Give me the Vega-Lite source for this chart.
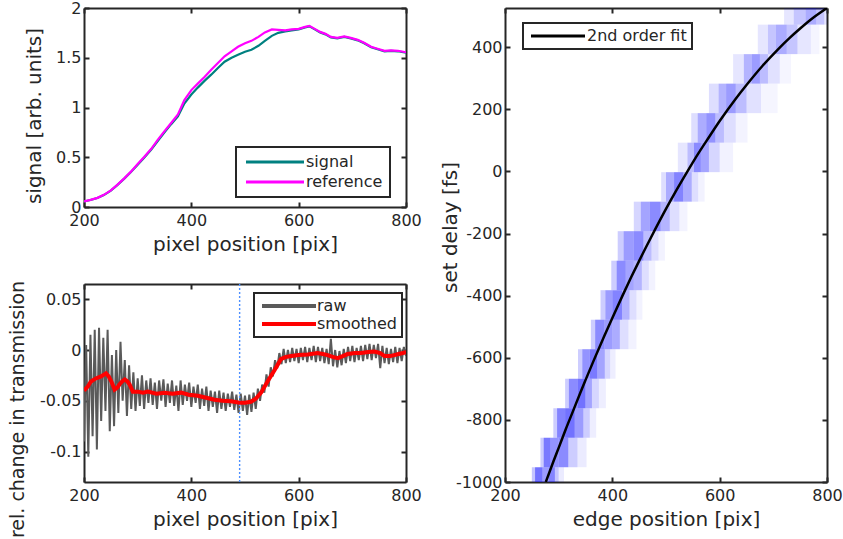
{
"$schema": "https://vega.github.io/schema/vega-lite/v6.json",
"autosize": {"type": "pad"},
"padding": {"left": 7, "top": 0, "right": 5, "bottom": 5},
"background": "white",
"config": {
  "font": "DejaVu Sans",
  "view": {"stroke": null},
  "axis": {"domainColor": "#262626", "domainWidth": 2, "tickColor": "#262626", "tickWidth": 2, "tickSize": -5,
           "labelColor": "#262626", "labelFontSize": 16, "labelFont": "DejaVu Sans", "titleColor": "#262626", "titleFontSize": 20, "titleFont": "DejaVu Sans",
           "titleFontWeight": "normal", "grid": false, "labelFlush": false, "labelOverlap": false},
  "legend": {"labelFontSize": 16, "labelColor": "#262626", "labelFont": "DejaVu Sans", "strokeColor": "#262626", "fillColor": "#ffffff", "symbolStrokeWidth": 3, "symbolSize": 100}
},
"datasets": {
  "signal": [
    {"x":200,"v":0.055},{"x":212,"v":0.07},{"x":225,"v":0.09},{"x":237,"v":0.12},{"x":250,"v":0.165},{"x":262,"v":0.22},{"x":275,"v":0.285},{"x":287,"v":0.35},{"x":300,"v":0.425},{"x":312,"v":0.495},{"x":325,"v":0.575},{"x":337,"v":0.66},{"x":350,"v":0.75},{"x":362,"v":0.83},{"x":375,"v":0.91},{"x":387,"v":1.04},{"x":400,"v":1.13},{"x":412,"v":1.2},{"x":425,"v":1.27},{"x":437,"v":1.33},{"x":450,"v":1.4},{"x":462,"v":1.46},{"x":475,"v":1.5},{"x":487,"v":1.53},{"x":500,"v":1.56},{"x":512,"v":1.58},{"x":525,"v":1.62},{"x":537,"v":1.67},{"x":550,"v":1.72},{"x":562,"v":1.75},{"x":575,"v":1.765},{"x":587,"v":1.775},{"x":600,"v":1.785},{"x":612,"v":1.805},{"x":620,"v":1.815},{"x":630,"v":1.785},{"x":640,"v":1.755},{"x":650,"v":1.735},{"x":660,"v":1.705},{"x":672,"v":1.695},{"x":685,"v":1.71},{"x":697,"v":1.695},{"x":710,"v":1.675},{"x":722,"v":1.645},{"x":735,"v":1.605},{"x":747,"v":1.585},{"x":760,"v":1.565},{"x":772,"v":1.57},{"x":785,"v":1.565},{"x":795,"v":1.555},{"x":800,"v":1.55}
  ],
  "reference": [
    {"x":200,"v":0.057},{"x":212,"v":0.072},{"x":225,"v":0.092},{"x":237,"v":0.122},{"x":250,"v":0.167},{"x":262,"v":0.222},{"x":275,"v":0.288},{"x":287,"v":0.353},{"x":300,"v":0.432},{"x":312,"v":0.502},{"x":325,"v":0.582},{"x":337,"v":0.672},{"x":350,"v":0.762},{"x":362,"v":0.842},{"x":375,"v":0.93},{"x":387,"v":1.075},{"x":400,"v":1.175},{"x":412,"v":1.24},{"x":425,"v":1.31},{"x":437,"v":1.38},{"x":450,"v":1.45},{"x":462,"v":1.515},{"x":475,"v":1.565},{"x":487,"v":1.61},{"x":500,"v":1.645},{"x":512,"v":1.67},{"x":525,"v":1.71},{"x":537,"v":1.755},{"x":550,"v":1.785},{"x":562,"v":1.78},{"x":575,"v":1.775},{"x":587,"v":1.785},{"x":600,"v":1.79},{"x":612,"v":1.81},{"x":620,"v":1.82},{"x":630,"v":1.79},{"x":640,"v":1.76},{"x":650,"v":1.74},{"x":660,"v":1.71},{"x":672,"v":1.7},{"x":685,"v":1.715},{"x":697,"v":1.7},{"x":710,"v":1.68},{"x":722,"v":1.65},{"x":735,"v":1.61},{"x":747,"v":1.59},{"x":760,"v":1.57},{"x":772,"v":1.575},{"x":785,"v":1.57},{"x":795,"v":1.56},{"x":800,"v":1.555}
  ],
  "raw": [
    {"x":200,"v":-0.09},{"x":204,"v":0.005},{"x":208,"v":-0.105},{"x":212,"v":0.015},{"x":216,"v":-0.085},{"x":220,"v":0.02},{"x":224,"v":-0.098},{"x":228,"v":0.022},{"x":232,"v":-0.07},{"x":236,"v":0.012},{"x":240,"v":-0.06},{"x":244,"v":0.02},{"x":248,"v":-0.08},{"x":252,"v":-0.005},{"x":256,"v":-0.075},{"x":260,"v":0.0},{"x":264,"v":-0.062},{"x":268,"v":0.008},{"x":272,"v":-0.05},{"x":276,"v":-0.01},{"x":280,"v":-0.065},{"x":284,"v":-0.015},{"x":288,"v":-0.058},{"x":292,"v":-0.022},{"x":296,"v":-0.06},{"x":300,"v":-0.028},{"x":304,"v":-0.055},{"x":308,"v":-0.025},{"x":312,"v":-0.058},{"x":316,"v":-0.03},{"x":320,"v":-0.052},{"x":324,"v":-0.028},{"x":328,"v":-0.054},{"x":332,"v":-0.032},{"x":336,"v":-0.058},{"x":340,"v":-0.03},{"x":344,"v":-0.05},{"x":348,"v":-0.029},{"x":352,"v":-0.056},{"x":356,"v":-0.033},{"x":360,"v":-0.052},{"x":364,"v":-0.03},{"x":368,"v":-0.055},{"x":372,"v":-0.035},{"x":376,"v":-0.06},{"x":380,"v":-0.03},{"x":384,"v":-0.054},{"x":388,"v":-0.034},{"x":392,"v":-0.05},{"x":396,"v":-0.032},{"x":400,"v":-0.056},{"x":404,"v":-0.036},{"x":408,"v":-0.052},{"x":412,"v":-0.034},{"x":416,"v":-0.058},{"x":420,"v":-0.038},{"x":424,"v":-0.055},{"x":428,"v":-0.036},{"x":432,"v":-0.06},{"x":436,"v":-0.04},{"x":440,"v":-0.056},{"x":444,"v":-0.041},{"x":448,"v":-0.062},{"x":452,"v":-0.04},{"x":456,"v":-0.058},{"x":460,"v":-0.042},{"x":464,"v":-0.06},{"x":468,"v":-0.043},{"x":472,"v":-0.056},{"x":476,"v":-0.041},{"x":480,"v":-0.059},{"x":484,"v":-0.044},{"x":488,"v":-0.062},{"x":492,"v":-0.043},{"x":496,"v":-0.06},{"x":500,"v":-0.045},{"x":504,"v":-0.064},{"x":508,"v":-0.044},{"x":512,"v":-0.061},{"x":516,"v":-0.042},{"x":520,"v":-0.058},{"x":524,"v":-0.038},{"x":528,"v":-0.05},{"x":532,"v":-0.034},{"x":536,"v":-0.042},{"x":540,"v":-0.024},{"x":544,"v":-0.036},{"x":548,"v":-0.017},{"x":552,"v":-0.026},{"x":556,"v":-0.01},{"x":560,"v":-0.018},{"x":564,"v":-0.003},{"x":568,"v":-0.014},{"x":572,"v":0.001},{"x":576,"v":-0.013},{"x":580,"v":0.0},{"x":584,"v":-0.012},{"x":588,"v":0.002},{"x":592,"v":-0.011},{"x":596,"v":0.001},{"x":600,"v":-0.013},{"x":604,"v":0.002},{"x":608,"v":-0.01},{"x":612,"v":0.003},{"x":616,"v":-0.012},{"x":620,"v":0.002},{"x":624,"v":-0.01},{"x":628,"v":0.004},{"x":632,"v":-0.012},{"x":636,"v":0.003},{"x":640,"v":-0.011},{"x":644,"v":0.002},{"x":648,"v":-0.013},{"x":652,"v":0.001},{"x":656,"v":-0.014},{"x":660,"v":0.011},{"x":664,"v":-0.016},{"x":668,"v":0.0},{"x":672,"v":-0.017},{"x":676,"v":-0.001},{"x":680,"v":-0.015},{"x":684,"v":0.001},{"x":688,"v":-0.013},{"x":692,"v":0.003},{"x":696,"v":-0.011},{"x":700,"v":0.004},{"x":704,"v":-0.012},{"x":708,"v":0.002},{"x":712,"v":-0.01},{"x":716,"v":0.004},{"x":720,"v":-0.011},{"x":724,"v":0.005},{"x":728,"v":-0.009},{"x":732,"v":0.006},{"x":736,"v":-0.01},{"x":740,"v":0.005},{"x":744,"v":-0.008},{"x":748,"v":0.006},{"x":752,"v":-0.018},{"x":756,"v":0.004},{"x":760,"v":-0.013},{"x":764,"v":0.002},{"x":768,"v":-0.014},{"x":772,"v":0.001},{"x":776,"v":-0.012},{"x":780,"v":0.003},{"x":784,"v":-0.013},{"x":788,"v":0.002},{"x":792,"v":-0.011},{"x":796,"v":0.003},{"x":800,"v":-0.006}
  ],
  "smooth": [
    {"x":200,"v":-0.04},{"x":207,"v":-0.036},{"x":213,"v":-0.031},{"x":222,"v":-0.028},{"x":232,"v":-0.026},{"x":241,"v":-0.023},{"x":246,"v":-0.026},{"x":251,"v":-0.031},{"x":257,"v":-0.039},{"x":262,"v":-0.037},{"x":266,"v":-0.034},{"x":271,"v":-0.031},{"x":276,"v":-0.029},{"x":281,"v":-0.031},{"x":285,"v":-0.034},{"x":291,"v":-0.041},{"x":300,"v":-0.041},{"x":310,"v":-0.042},{"x":319,"v":-0.041},{"x":335,"v":-0.043},{"x":350,"v":-0.042},{"x":365,"v":-0.043},{"x":381,"v":-0.042},{"x":395,"v":-0.044},{"x":412,"v":-0.045},{"x":428,"v":-0.047},{"x":443,"v":-0.049},{"x":458,"v":-0.05},{"x":474,"v":-0.0505},{"x":490,"v":-0.052},{"x":500,"v":-0.052},{"x":511,"v":-0.051},{"x":520,"v":-0.048},{"x":530,"v":-0.042},{"x":542,"v":-0.031},{"x":555,"v":-0.02},{"x":567,"v":-0.009},{"x":575,"v":-0.007},{"x":586,"v":-0.006},{"x":600,"v":-0.005},{"x":617,"v":-0.0045},{"x":635,"v":-0.003},{"x":645,"v":-0.004},{"x":654,"v":-0.005},{"x":665,"v":-0.007},{"x":673,"v":-0.008},{"x":682,"v":-0.006},{"x":691,"v":-0.004},{"x":705,"v":-0.003},{"x":716,"v":-0.003},{"x":730,"v":-0.002},{"x":741,"v":-0.0015},{"x":752,"v":-0.003},{"x":760,"v":-0.006},{"x":770,"v":-0.006},{"x":778,"v":-0.005},{"x":786,"v":-0.004},{"x":794,"v":-0.003},{"x":800,"v":-0.002}
  ],
  "marker": [{"x": 490}],
  "hist": [
    {"d0":-1047.5,"d1":-952.5,"e0":250,"e1":256,"w":0.35},{"d0":-1047.5,"d1":-952.5,"e0":256,"e1":270,"w":0.85},{"d0":-1047.5,"d1":-952.5,"e0":270,"e1":282,"w":0.6},{"d0":-1047.5,"d1":-952.5,"e0":282,"e1":293,"w":0.75},{"d0":-1047.5,"d1":-952.5,"e0":293,"e1":300,"w":0.35},{"d0":-1047.5,"d1":-952.5,"e0":300,"e1":310,"w":0.12},
    {"d0":-952.5,"d1":-857.5,"e0":266,"e1":272,"w":0.3},{"d0":-952.5,"d1":-857.5,"e0":272,"e1":285,"w":0.8},{"d0":-952.5,"d1":-857.5,"e0":285,"e1":300,"w":0.65},{"d0":-952.5,"d1":-857.5,"e0":300,"e1":318,"w":0.7},{"d0":-952.5,"d1":-857.5,"e0":318,"e1":335,"w":0.3},{"d0":-952.5,"d1":-857.5,"e0":335,"e1":352,"w":0.12},
    {"d0":-857.5,"d1":-762.5,"e0":290,"e1":297,"w":0.3},{"d0":-857.5,"d1":-762.5,"e0":297,"e1":312,"w":0.75},{"d0":-857.5,"d1":-762.5,"e0":312,"e1":330,"w":0.85},{"d0":-857.5,"d1":-762.5,"e0":330,"e1":346,"w":0.6},{"d0":-857.5,"d1":-762.5,"e0":346,"e1":358,"w":0.3},{"d0":-857.5,"d1":-762.5,"e0":358,"e1":370,"w":0.1},
    {"d0":-762.5,"d1":-667.5,"e0":312,"e1":319,"w":0.3},{"d0":-762.5,"d1":-667.5,"e0":319,"e1":335,"w":0.7},{"d0":-762.5,"d1":-667.5,"e0":335,"e1":350,"w":0.85},{"d0":-762.5,"d1":-667.5,"e0":350,"e1":362,"w":0.55},{"d0":-762.5,"d1":-667.5,"e0":362,"e1":375,"w":0.25},{"d0":-762.5,"d1":-667.5,"e0":375,"e1":388,"w":0.1},
    {"d0":-667.5,"d1":-572.5,"e0":336,"e1":344,"w":0.3},{"d0":-667.5,"d1":-572.5,"e0":344,"e1":358,"w":0.65},{"d0":-667.5,"d1":-572.5,"e0":358,"e1":372,"w":0.8},{"d0":-667.5,"d1":-572.5,"e0":372,"e1":386,"w":0.55},{"d0":-667.5,"d1":-572.5,"e0":386,"e1":396,"w":0.25},{"d0":-667.5,"d1":-572.5,"e0":396,"e1":406,"w":0.1},
    {"d0":-572.5,"d1":-477.5,"e0":360,"e1":368,"w":0.3},{"d0":-572.5,"d1":-477.5,"e0":368,"e1":385,"w":0.7},{"d0":-572.5,"d1":-477.5,"e0":385,"e1":400,"w":0.6},{"d0":-572.5,"d1":-477.5,"e0":400,"e1":414,"w":0.5},{"d0":-572.5,"d1":-477.5,"e0":414,"e1":430,"w":0.2},{"d0":-572.5,"d1":-477.5,"e0":430,"e1":445,"w":0.08},
    {"d0":-477.5,"d1":-382.5,"e0":378,"e1":387,"w":0.3},{"d0":-477.5,"d1":-382.5,"e0":387,"e1":400,"w":0.6},{"d0":-477.5,"d1":-382.5,"e0":400,"e1":418,"w":0.75},{"d0":-477.5,"d1":-382.5,"e0":418,"e1":432,"w":0.45},{"d0":-477.5,"d1":-382.5,"e0":432,"e1":445,"w":0.2},{"d0":-477.5,"d1":-382.5,"e0":445,"e1":456,"w":0.08},
    {"d0":-382.5,"d1":-287.5,"e0":398,"e1":408,"w":0.3},{"d0":-382.5,"d1":-287.5,"e0":408,"e1":425,"w":0.7},{"d0":-382.5,"d1":-287.5,"e0":425,"e1":440,"w":0.55},{"d0":-382.5,"d1":-287.5,"e0":440,"e1":455,"w":0.45},{"d0":-382.5,"d1":-287.5,"e0":455,"e1":468,"w":0.2},{"d0":-382.5,"d1":-287.5,"e0":468,"e1":480,"w":0.08},
    {"d0":-287.5,"d1":-192.5,"e0":410,"e1":421,"w":0.3},{"d0":-287.5,"d1":-192.5,"e0":421,"e1":440,"w":0.6},{"d0":-287.5,"d1":-192.5,"e0":440,"e1":458,"w":0.7},{"d0":-287.5,"d1":-192.5,"e0":458,"e1":473,"w":0.4},{"d0":-287.5,"d1":-192.5,"e0":473,"e1":486,"w":0.2},{"d0":-287.5,"d1":-192.5,"e0":486,"e1":498,"w":0.08},
    {"d0":-192.5,"d1":-97.5,"e0":440,"e1":453,"w":0.25},{"d0":-192.5,"d1":-97.5,"e0":453,"e1":470,"w":0.55},{"d0":-192.5,"d1":-97.5,"e0":470,"e1":490,"w":0.7},{"d0":-192.5,"d1":-97.5,"e0":490,"e1":507,"w":0.45},{"d0":-192.5,"d1":-97.5,"e0":507,"e1":525,"w":0.2},{"d0":-192.5,"d1":-97.5,"e0":525,"e1":540,"w":0.07},
    {"d0":-97.5,"d1":-2.5,"e0":491,"e1":500,"w":0.2},{"d0":-97.5,"d1":-2.5,"e0":500,"e1":515,"w":0.5},{"d0":-97.5,"d1":-2.5,"e0":515,"e1":532,"w":0.75},{"d0":-97.5,"d1":-2.5,"e0":532,"e1":548,"w":0.5},{"d0":-97.5,"d1":-2.5,"e0":548,"e1":560,"w":0.2},{"d0":-97.5,"d1":-2.5,"e0":560,"e1":572,"w":0.08},
    {"d0":-2.5,"d1":92.5,"e0":522,"e1":540,"w":0.15},{"d0":-2.5,"d1":92.5,"e0":540,"e1":552,"w":0.4},{"d0":-2.5,"d1":92.5,"e0":552,"e1":565,"w":0.7},{"d0":-2.5,"d1":92.5,"e0":565,"e1":580,"w":0.55},{"d0":-2.5,"d1":92.5,"e0":580,"e1":600,"w":0.25},{"d0":-2.5,"d1":92.5,"e0":600,"e1":625,"w":0.08},
    {"d0":92.5,"d1":187.5,"e0":547,"e1":559,"w":0.2},{"d0":92.5,"d1":187.5,"e0":559,"e1":575,"w":0.5},{"d0":92.5,"d1":187.5,"e0":575,"e1":592,"w":0.65},{"d0":92.5,"d1":187.5,"e0":592,"e1":608,"w":0.4},{"d0":92.5,"d1":187.5,"e0":608,"e1":630,"w":0.2},{"d0":92.5,"d1":187.5,"e0":630,"e1":652,"w":0.07},
    {"d0":187.5,"d1":282.5,"e0":580,"e1":598,"w":0.2},{"d0":187.5,"d1":282.5,"e0":598,"e1":612,"w":0.45},{"d0":187.5,"d1":282.5,"e0":612,"e1":630,"w":0.6},{"d0":187.5,"d1":282.5,"e0":630,"e1":650,"w":0.4},{"d0":187.5,"d1":282.5,"e0":650,"e1":677,"w":0.18},{"d0":187.5,"d1":282.5,"e0":677,"e1":708,"w":0.06},
    {"d0":282.5,"d1":377.5,"e0":625,"e1":645,"w":0.15},{"d0":282.5,"d1":377.5,"e0":645,"e1":660,"w":0.45},{"d0":282.5,"d1":377.5,"e0":660,"e1":675,"w":0.6},{"d0":282.5,"d1":377.5,"e0":675,"e1":690,"w":0.4},{"d0":282.5,"d1":377.5,"e0":690,"e1":712,"w":0.18},{"d0":282.5,"d1":377.5,"e0":712,"e1":733,"w":0.06},
    {"d0":377.5,"d1":472.5,"e0":671,"e1":690,"w":0.15},{"d0":377.5,"d1":472.5,"e0":690,"e1":705,"w":0.35},{"d0":377.5,"d1":472.5,"e0":705,"e1":725,"w":0.5},{"d0":377.5,"d1":472.5,"e0":725,"e1":745,"w":0.35},{"d0":377.5,"d1":472.5,"e0":745,"e1":770,"w":0.15},{"d0":377.5,"d1":472.5,"e0":770,"e1":786,"w":0.06},
    {"d0":472.5,"d1":567.5,"e0":720,"e1":738,"w":0.15},{"d0":472.5,"d1":567.5,"e0":738,"e1":760,"w":0.35},{"d0":472.5,"d1":567.5,"e0":760,"e1":780,"w":0.5},{"d0":472.5,"d1":567.5,"e0":780,"e1":795,"w":0.35},{"d0":472.5,"d1":567.5,"e0":795,"e1":800,"w":0.15}
  ],
  "fit": [
    {"e":276,"d":-1000},{"e":290,"d":-935},{"e":300,"d":-890},{"e":313,"d":-831},{"e":326,"d":-775},{"e":340,"d":-714},{"e":350,"d":-672},{"e":365,"d":-610},{"e":385,"d":-530},{"e":400,"d":-472},{"e":419,"d":-400},{"e":435,"d":-341},{"e":450,"d":-288},{"e":472,"d":-213},{"e":500,"d":-121},{"e":520,"d":-59},{"e":540,"d":0},{"e":560,"d":57},{"e":580,"d":110},{"e":600,"d":162},{"e":630,"d":234},{"e":650,"d":278},{"e":680,"d":340},{"e":711,"d":397},{"e":730,"d":429},{"e":750,"d":460},{"e":770,"d":489},{"e":800,"d":526}
  ]
},
"bounds": "flush",
"spacing": 421,
"resolve": {"scale": {"color": "independent", "opacity": "independent"}, "legend": {"color": "independent"}},
"hconcat": [
  {
    "bounds": "flush",
    "spacing": 77,
    "resolve": {"scale": {"color": "independent"}, "legend": {"color": "independent"}},
    "vconcat": [
      {
        "width": 322, "height": 199,
        "layer": [
          {
            "data": {"name": "signal"},
            "mark": {"type": "line", "strokeWidth": 2.2, "clip": true},
            "encoding": {
              "x": {"field": "x", "type": "quantitative", "scale": {"domain": [200, 800], "nice": false, "zero": false},
                    "axis": {"orient": "bottom", "values": [200, 400, 600, 800], "title": "pixel position [pix]", "labelExpr": "'' + datum.value", "labelPadding": 10, "titleBaseline": "alphabetic", "titleY": 43}},
              "y": {"field": "v", "type": "quantitative", "scale": {"domain": [0, 2], "nice": false},
                    "axis": {"orient": "left", "values": [0, 0.5, 1, 1.5, 2], "title": "signal [arb. units]", "labelExpr": "'' + datum.value", "labelPadding": 8, "titleBaseline": "alphabetic", "titleX": -44, "titleY": 107.5}},
              "color": {"datum": "signal", "type": "nominal", "scale": {"domain": ["signal", "reference"], "range": ["#008080", "#ff00ff"]},
                        "legend": {"title": null, "orient": "none", "legendX": 152, "legendY": 139, "symbolType": "M-1,0H10.6", "padding": 7, "rowPadding": 4, "labelOffset": 47,
                                   "encode": {"legend": {"update": {"strokeWidth": {"value": 2}}}}}}
            }
          },
          {
            "data": {"name": "reference"},
            "mark": {"type": "line", "strokeWidth": 2.2, "clip": true},
            "encoding": {
              "x": {"field": "x", "type": "quantitative", "scale": {"domain": [200, 800], "nice": false, "zero": false},
                    "axis": {"orient": "top", "values": [200, 400, 600, 800], "labels": false, "title": null}},
              "y": {"field": "v", "type": "quantitative", "scale": {"domain": [0, 2], "nice": false},
                    "axis": {"orient": "right", "values": [0, 0.5, 1, 1.5, 2], "labels": false, "title": null}},
              "color": {"datum": "reference", "type": "nominal"}
            }
          }
        ],
        "resolve": {"axis": {"x": "independent", "y": "independent"}}
      },
      {
        "width": 322, "height": 198,
        "layer": [
          {
            "data": {"name": "raw"},
            "mark": {"type": "line", "strokeWidth": 2, "clip": true},
            "encoding": {
              "x": {"field": "x", "type": "quantitative", "scale": {"domain": [200, 800], "nice": false, "zero": false},
                    "axis": {"orient": "bottom", "values": [200, 400, 600, 800], "title": "pixel position [pix]", "labelExpr": "'' + datum.value", "labelPadding": 10, "titleBaseline": "alphabetic", "titleY": 43}},
              "y": {"field": "v", "type": "quantitative", "scale": {"domain": [-0.13, 0.065], "nice": false, "zero": false},
                    "axis": {"orient": "left", "values": [-0.1, -0.05, 0, 0.05], "title": "rel. change in transmission", "titleFontSize": 19, "labelExpr": "'' + datum.value", "labelPadding": 8, "titleBaseline": "alphabetic", "titleX": -61, "titleY": 125}},
              "color": {"datum": "raw", "type": "nominal", "scale": {"domain": ["raw", "smoothed"], "range": ["#5a5a5a", "#ff0000"]},
                        "legend": {"title": null, "orient": "none", "legendX": 170, "legendY": 9, "symbolType": "M-1,0H9.8", "padding": 5, "rowPadding": 2, "labelOffset": 42,
                                   "encode": {"legend": {"update": {"strokeWidth": {"value": 2}}}, "symbols": {"update": {"strokeWidth": {"value": 4}}}}}}
            }
          },
          {
            "data": {"name": "marker"},
            "mark": {"type": "rule", "stroke": "#4d8fff", "strokeWidth": 1.4, "strokeDash": [2, 2]},
            "encoding": {
              "x": {"field": "x", "type": "quantitative", "scale": {"domain": [200, 800], "nice": false, "zero": false}, "axis": null}
            }
          },
          {
            "data": {"name": "smooth"},
            "mark": {"type": "line", "strokeWidth": 4, "clip": true},
            "encoding": {
              "x": {"field": "x", "type": "quantitative", "scale": {"domain": [200, 800], "nice": false, "zero": false},
                    "axis": {"orient": "top", "values": [200, 400, 600, 800], "labels": false, "title": null}},
              "y": {"field": "v", "type": "quantitative", "scale": {"domain": [-0.13, 0.065], "nice": false, "zero": false},
                    "axis": {"orient": "right", "values": [-0.1, -0.05, 0, 0.05], "labels": false, "title": null}},
              "color": {"datum": "smoothed", "type": "nominal"}
            }
          }
        ],
        "resolve": {"axis": {"x": "independent", "y": "independent"}}
      }
    ]
  },
  {
    "width": 322, "height": 474,
    "layer": [
      {
        "data": {"name": "hist"},
        "mark": {"type": "rect", "fill": "#0000ff", "strokeWidth": 0, "clip": true},
        "encoding": {
          "x": {"field": "e0", "type": "quantitative", "scale": {"domain": [200, 800], "nice": false, "zero": false},
                "axis": {"orient": "bottom", "values": [200, 400, 600, 800], "title": "edge position [pix]", "labelExpr": "'' + datum.value", "labelPadding": 10, "titleBaseline": "alphabetic", "titleY": 43}},
          "x2": {"field": "e1"},
          "y": {"field": "d0", "type": "quantitative", "scale": {"domain": [-1000, 526], "nice": false, "zero": false},
                "axis": {"orient": "left", "values": [-1000, -800, -600, -400, -200, 0, 200, 400], "title": "set delay [fs]", "labelExpr": "'' + datum.value", "labelPadding": 8, "titleBaseline": "alphabetic", "titleX": -49, "titleY": 219}},
          "y2": {"field": "d1"},
          "opacity": {"field": "w", "type": "quantitative", "scale": {"domain": [0, 1], "range": [0, 0.65]}, "legend": null}
        }
      },
      {
        "data": {"name": "fit"},
        "mark": {"type": "line", "strokeWidth": 2.5, "interpolate": "monotone", "clip": true},
        "encoding": {
          "x": {"field": "e", "type": "quantitative", "scale": {"domain": [200, 800], "nice": false, "zero": false},
                "axis": {"orient": "top", "values": [200, 400, 600, 800], "labels": false, "title": null}},
          "y": {"field": "d", "type": "quantitative", "scale": {"domain": [-1000, 526], "nice": false, "zero": false},
                "axis": {"orient": "right", "values": [-1000, -800, -600, -400, -200, 0, 200, 400], "labels": false, "title": null}},
          "color": {"datum": "2nd order fit", "type": "nominal", "scale": {"range": ["#000000"]},
                    "legend": {"title": null, "orient": "none", "legendX": 18, "legendY": 15, "symbolType": "M-1,0H9.8", "padding": 5, "labelOffset": 43,
                               "encode": {"legend": {"update": {"strokeWidth": {"value": 2}}}}}}
        }
      }
    ],
    "resolve": {"axis": {"x": "independent", "y": "independent"}}
  }
]
}
